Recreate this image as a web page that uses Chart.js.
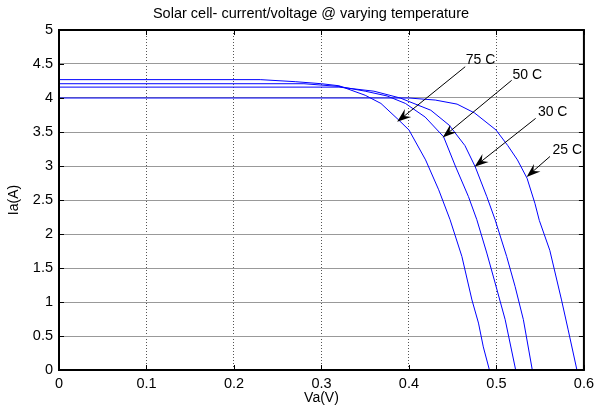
<!DOCTYPE html>
<html>
<head>
<meta charset="utf-8">
<script src="https://cdn.jsdelivr.net/npm/chart.js@4"></script>
<style>
html,body{margin:0;padding:0;background:#fff}
#wrap{width:599px;height:410px}
</style>
</head>
<body>
<div id="wrap"><canvas id="ivChart" width="599" height="410"></canvas></div>
<script>
// I-V curves, one pair of arrays per temperature
const V75=[0,0.23,0.27,0.30,0.32,0.35,0.368,0.388,0.40,0.419,0.434,0.447,0.4605,0.472,0.4795,0.485,0.492]
const I75=[4.27,4.27,4.24,4.21,4.18,4.04,3.92,3.68,3.53,3.09,2.65,2.21,1.67,1.03,0.69,0.34,0]
const V50=[0,0.28,0.32,0.35,0.375,0.396,0.4185,0.4396,0.453,0.468,0.4776,0.489,0.4985,0.51,0.522]
const I50=[4.21,4.21,4.17,4.1,4.03,3.92,3.72,3.43,3.0,2.55,2.21,1.72,1.28,0.74,0]
const V30=[0,0.32,0.36,0.39,0.425,0.446,0.464,0.4757,0.489,0.4985,0.5117,0.5213,0.5308,0.541]
const I30=[4.16,4.16,4.1,4.0,3.82,3.6,3.3,2.99,2.55,2.21,1.67,1.23,0.74,0]
const V25=[0,0.40,0.43,0.455,0.475,0.4995,0.513,0.524,0.535,0.544,0.549,0.561,0.5744,0.582,0.592]
const I25=[4.0,4.0,3.97,3.91,3.78,3.53,3.3,3.09,2.82,2.45,2.2,1.76,1.03,0.59,0]

const xTickLabels=['0','0.1','0.2','0.3','0.4','0.5','0.6']
const yTickLabels=['0','0.5','1','1.5','2','2.5','3','3.5','4','4.5','5']

// arrow annotations (data coords): label, text centre, arrow tail, arrow tip
const annLabels=['75 C','50 C','30 C','25 C']
const annTextV=[0.4818,0.5353,0.5643,0.5809]
const annTextI=[4.56,4.34,3.79,3.24]
const annTailV=[0.4643,0.5174,0.5448,0.5612]
const annTailI=[4.46,4.26,3.70,3.14]
const annTipV=[0.3865,0.4385,0.475,0.5345]
const annTipI=[3.65,3.42,2.99,2.84]

const FONT='Arial, "Liberation Sans", sans-serif'

function pairs(X,Y){return X.map((x,i)=>({x:x,y:Y[i]}))}

const framePlugin={
  id:'framePlugin',
  afterDraw(chart){
    const ctx=chart.ctx, a=chart.chartArea
    const xs=chart.scales.x, ys=chart.scales.y
    ctx.save()
    // inward ticks
    ctx.strokeStyle='#000';ctx.lineWidth=1
    ctx.beginPath()
    xs.ticks.forEach(t=>{const p=Math.round(xs.getPixelForValue(t.value))+0.5
      ctx.moveTo(p,a.bottom);ctx.lineTo(p,a.bottom-5)
      ctx.moveTo(p,a.top);ctx.lineTo(p,a.top+5)})
    ys.ticks.forEach(t=>{const p=Math.round(ys.getPixelForValue(t.value))+0.5
      ctx.moveTo(a.left,p);ctx.lineTo(a.left+5,p)
      ctx.moveTo(a.right,p);ctx.lineTo(a.right-5,p)})
    ctx.stroke()
    // box
    ctx.lineWidth=2
    ctx.strokeRect(a.left,a.top,a.right-a.left,a.bottom-a.top)
    // title
    ctx.fillStyle='#000'
    ctx.font='14.5px '+FONT
    ctx.textAlign='center';ctx.textBaseline='middle'
    ctx.fillText('Solar cell- current/voltage @ varying temperature',311,14)
    // arrows
    ctx.font='14px '+FONT
    annLabels.forEach((lab,i)=>{
      const tx=xs.getPixelForValue(annTailV[i]), ty=ys.getPixelForValue(annTailI[i])
      const px=xs.getPixelForValue(annTipV[i]), py=ys.getPixelForValue(annTipI[i])
      const dx=px-tx, dy=py-ty, L=Math.hypot(dx,dy), ux=dx/L, uy=dy/L
      const hl=14, hw=5
      ctx.lineWidth=1
      ctx.beginPath();ctx.moveTo(tx,ty);ctx.lineTo(px-ux*hl*0.6,py-uy*hl*0.6);ctx.stroke()
      ctx.beginPath()
      ctx.moveTo(px,py)
      ctx.lineTo(px-ux*hl-uy*hw,py-uy*hl+ux*hw)
      ctx.lineTo(px-ux*hl*0.65,py-uy*hl*0.65)
      ctx.lineTo(px-ux*hl+uy*hw,py-uy*hl-ux*hw)
      ctx.closePath();ctx.fill()
      ctx.fillText(lab,xs.getPixelForValue(annTextV[i]),ys.getPixelForValue(annTextI[i]))
    })
    ctx.restore()
  }
}

const lineStyle={borderColor:'#0000ff',borderWidth:1,pointRadius:0,tension:0,fill:false}

new Chart(document.getElementById('ivChart'),{
  type:'line',
  data:{datasets:[
    Object.assign({label:'75 C',data:pairs(V75,I75)},lineStyle),
    Object.assign({label:'50 C',data:pairs(V50,I50)},lineStyle),
    Object.assign({label:'30 C',data:pairs(V30,I30)},lineStyle),
    Object.assign({label:'25 C',data:pairs(V25,I25)},lineStyle)
  ]},
  options:{
    responsive:false,
    animation:false,
    layout:{padding:{top:30,right:13,left:0,bottom:0}},
    plugins:{legend:{display:false},tooltip:{enabled:false}},
    scales:{
      x:{type:'linear',min:0,max:0.6,
        afterFit:s=>{s.height=40},
        ticks:{stepSize:0.1,padding:5,color:'#000',font:{family:FONT,size:14.5},
          callback:(v,i)=>xTickLabels[i]},
        grid:{color:'#555',drawTicks:false},
        border:{display:false,dash:[1,2]},
        title:{display:true,text:'Va(V)',color:'#000',font:{family:FONT,size:14},padding:{top:0,bottom:3}}
      },
      y:{min:0,max:5,
        afterFit:s=>{s.width=59},
        ticks:{stepSize:0.5,padding:6,color:'#000',font:{family:FONT,size:14.5},
          callback:(v,i)=>yTickLabels[i]},
        grid:{color:'#999',drawTicks:false},
        border:{display:false},
        title:{display:true,text:'Ia(A)',color:'#000',font:{family:FONT,size:14},padding:{top:6,bottom:0}}
      }
    }
  },
  plugins:[framePlugin]
})
</script>
</body>
</html>
